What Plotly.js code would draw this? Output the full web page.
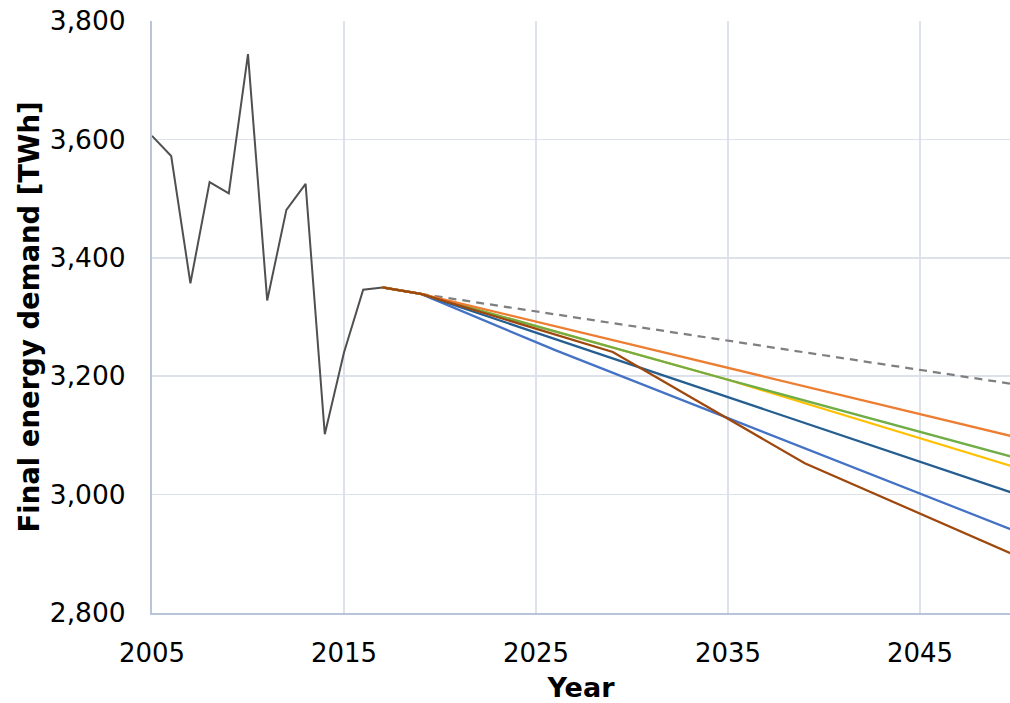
<!DOCTYPE html>
<html>
<head>
<meta charset="utf-8">
<script src="https://cdn.plot.ly/plotly-3.0.1.min.js"></script>
<style>html,body{margin:0;padding:0;background:#fff;overflow:hidden}#chart{width:1010px;height:703px}</style>
</head>
<body>
<div id="chart"></div>
<script>
// Historical final energy demand [TWh]
const histYears = [2005,2006,2007,2008,2009,2010,2011,2012,2013,2014,2015,2016,2017,2018,2019];
const histValues = [3606,3572,3357,3528,3509,3744,3328,3481,3525,3102,3240,3346,3350,3344,3339];

// Reference (dashed) trend
const refYears = [2019,2050];
const refValues = [3339,3186];

// Scenario projections
const orangeYears = [2017,2018,2019,2050];
const orangeValues = [3350,3344,3339,3097];
const greenYears = [2017,2018,2019,2035,2050];
const greenValues = [3350,3344,3339,3194,3062];
const yellowYears = [2017,2018,2019,2035,2050];
const yellowValues = [3350,3344,3339,3194,3046];
const darkBlueYears = [2017,2018,2019,2050];
const darkBlueValues = [3350,3344,3339,3001];
const blueYears = [2017,2018,2019,2026,2050];
const blueValues = [3350,3344,3339,3244,2938];
const brownYears = [2017,2018,2019,2029,2039,2050];
const brownValues = [3350,3344,3339,3241,3053,2897];

const yTicks = [2800,3000,3200,3400,3600,3800];
const xTicks = [2005,2015,2025,2035,2045];

function line(x, y, color, width, dash) {
  return {x: x, y: y, type: 'scatter', mode: 'lines', hoverinfo: 'skip',
    line: {color: color, width: width, dash: dash || 'solid'}};
}

const traces = [
  line(histYears, histValues, '#505050', 2),
  line(refYears, refValues, '#7f7f7f', 2.25, '8px,6px'),
  line(blueYears, blueValues, '#4472C4', 2.25),
  line(darkBlueYears, darkBlueValues, '#255E91', 2.25),
  line(yellowYears, yellowValues, '#FFC000', 2.25),
  line(greenYears, greenValues, '#70AD47', 2.25),
  line(orangeYears, orangeValues, '#ED7D31', 2.25),
  line(brownYears, brownValues, '#9E480E', 2.25)
];

const font = {family: 'DejaVu Sans, Verdana, sans-serif', color: '#000'};

const layout = {
  width: 1010, height: 703,
  margin: {l: 152, r: 0, t: 21, b: 90, pad: 0},
  paper_bgcolor: '#fff', plot_bgcolor: '#fff',
  showlegend: false,
  font: Object.assign({size: 26}, font),
  xaxis: {
    range: [2005, 2049.69], tickvals: xTicks, ticktext: xTicks.map(String),
    showgrid: true, gridcolor: '#dde1ea', gridwidth: 1.5,
    showline: true, linecolor: '#b8c4d8', linewidth: 2,
    zeroline: false,
    ticks: 'outside', ticklen: 16, tickcolor: 'rgba(0,0,0,0)',
    tickfont: Object.assign({size: 26}, font),
    title: {text: '<b>Year</b>', font: Object.assign({size: 27}, font), standoff: 14}
  },
  yaxis: {
    range: [2800, 3800], tickvals: yTicks, ticktext: yTicks.map(v => v.toLocaleString('en-US')),
    showgrid: true, gridcolor: '#dde1ea', gridwidth: 1.5,
    showline: true, linecolor: '#b8c4d8', linewidth: 2,
    zeroline: false,
    ticks: 'outside', ticklen: 19, tickcolor: 'rgba(0,0,0,0)',
    tickfont: Object.assign({size: 26.5}, font),
    title: {text: '<b>Final energy demand [TWh]</b>', font: Object.assign({size: 27.5}, font), standoff: 2}
  }
};

Plotly.newPlot('chart', traces, layout, {displayModeBar: false, staticPlot: true});
</script>
</body>
</html>
